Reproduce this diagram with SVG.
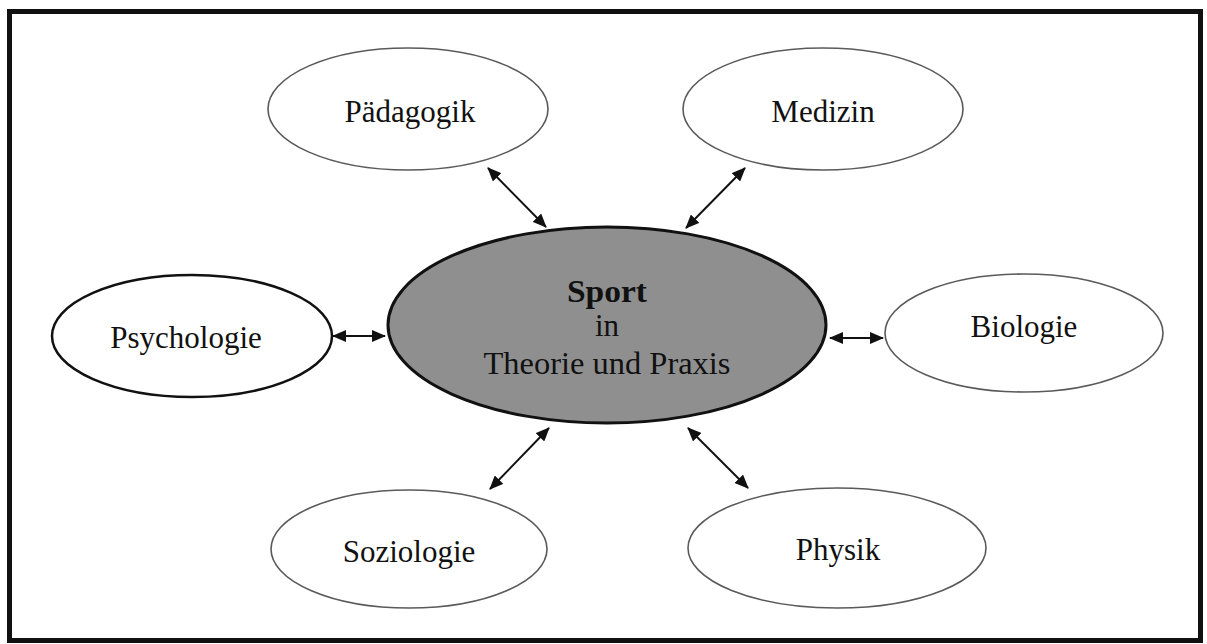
<svg xmlns="http://www.w3.org/2000/svg" width="1207" height="644" viewBox="0 0 1207 644">
  <defs>
    <marker id="ah" viewBox="0 0 14 12" refX="13" refY="6" markerWidth="14" markerHeight="12" markerUnits="userSpaceOnUse" orient="auto-start-reverse">
      <path d="M0,0 L14,6 L0,12 Z" fill="#111"/>
    </marker>
    <style>
      .node { fill: #fff; stroke: #5a5a5a; stroke-width: 1.6; }
      .node-dark { fill: #fff; stroke: #111; stroke-width: 2.5; }
      .center { fill: #8f8f8f; stroke: #111; stroke-width: 3; }
      .label { font-family: "Liberation Serif", "Times New Roman", serif; font-size: 31px; fill: #111; text-anchor: middle; }
      .conn { stroke: #111; stroke-width: 2; fill: none; marker-start: url(#ah); marker-end: url(#ah); }
    </style>
  </defs>
  <rect x="0" y="0" width="1207" height="644" fill="#fff"/>
  <rect x="9.5" y="11.5" width="1191" height="629" fill="none" stroke="#111" stroke-width="5"/>

  <g id="connectors">
    <line class="conn" x1="488" y1="168" x2="546" y2="227"/>
    <line class="conn" x1="745" y1="168" x2="686" y2="228"/>
    <line class="conn" x1="333" y1="336" x2="385" y2="336"/>
    <line class="conn" x1="830" y1="338" x2="883" y2="338"/>
    <line class="conn" x1="549" y1="428" x2="490" y2="489"/>
    <line class="conn" x1="688" y1="428" x2="748" y2="488"/>
  </g>

  <g id="node-sport">
    <ellipse class="center" cx="607" cy="325" rx="219" ry="98"/>
    <text class="label" x="607" y="302" font-weight="bold" textLength="80" lengthAdjust="spacingAndGlyphs">Sport</text>
    <text class="label" x="607" y="336" font-size="22">in</text>
    <text class="label" x="607" y="374" textLength="247" lengthAdjust="spacingAndGlyphs">Theorie und Praxis</text>
  </g>

  <g id="node-paedagogik">
    <ellipse class="node" cx="408" cy="109" rx="140" ry="61"/>
    <text class="label" x="410" y="122">Pädagogik</text>
  </g>

  <g id="node-medizin">
    <ellipse class="node" cx="823" cy="109" rx="140" ry="61"/>
    <text class="label" x="823" y="122">Medizin</text>
  </g>

  <g id="node-psychologie">
    <ellipse class="node-dark" cx="192" cy="336" rx="140" ry="61"/>
    <text class="label" x="186" y="348">Psychologie</text>
  </g>

  <g id="node-biologie">
    <ellipse class="node" cx="1024" cy="333" rx="139" ry="59"/>
    <text class="label" x="1024" y="337">Biologie</text>
  </g>

  <g id="node-soziologie">
    <ellipse class="node" cx="409" cy="549" rx="138" ry="59"/>
    <text class="label" x="409" y="562">Soziologie</text>
  </g>

  <g id="node-physik">
    <ellipse class="node" cx="837" cy="548" rx="149" ry="60"/>
    <text class="label" x="838" y="560">Physik</text>
  </g>
</svg>
